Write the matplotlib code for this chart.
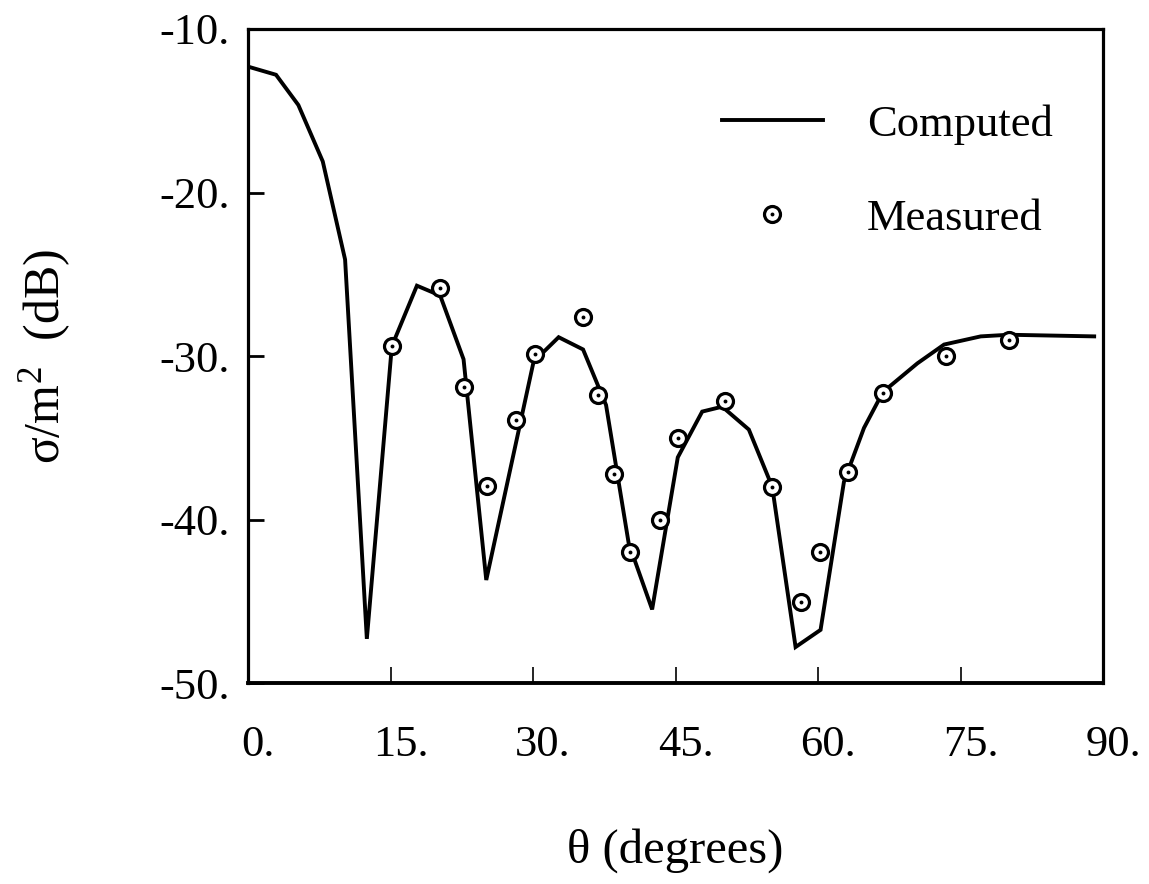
import matplotlib
matplotlib.use("Agg")
import matplotlib.pyplot as plt
import matplotlib.transforms as mtransforms
from matplotlib.legend_handler import HandlerTuple

plt.rcParams["font.family"] = ["Liberation Serif", "DejaVu Serif"]
plt.rcParams["mathtext.fontset"] = "custom"
plt.rcParams["mathtext.rm"] = "Liberation Serif"
plt.rcParams["mathtext.it"] = "Liberation Serif:italic"
plt.rcParams["mathtext.default"] = "regular"

# Computed backscatter (dB) versus incidence angle
theta_computed = [0.0, 2.95, 5.3, 7.87, 10.22, 12.51, 15.14, 17.78, 20.23, 22.69,
                  25.08, 30.06, 32.7, 35.27, 37.69, 40.07, 42.54, 45.24, 47.81,
                  49.92, 52.72, 55.18, 57.64, 60.27, 62.73, 64.84, 66.84, 70.46,
                  73.27, 77.13, 80.08, 89.07]
sigma_computed = [-12.3, -12.8, -14.65, -18.1, -24.1, -47.3, -29.4, -25.7, -26.3,
                  -30.2, -43.7, -30.35, -28.85, -29.6, -33.0, -41.45, -45.5, -36.2,
                  -33.4, -33.1, -34.5, -38.0, -47.8, -46.75, -37.7, -34.4, -32.2,
                  -30.45, -29.3, -28.8, -28.7, -28.8]

# Measured backscatter (dB)
theta_measured = [15.14, 20.23, 22.69, 25.15, 28.24, 30.24, 35.27, 36.85, 38.49,
                  40.18, 43.34, 45.24, 50.16, 55.18, 58.17, 60.2, 63.15, 66.84,
                  73.45, 80.12]
sigma_measured = [-29.4, -25.85, -31.9, -37.95, -33.9, -29.9, -27.6, -32.4, -37.2,
                  -42.0, -40.0, -35.0, -32.75, -38.0, -45.05, -42.0, -37.1, -32.25,
                  -30.0, -29.0]

x_ticks = [0, 15, 30, 45, 60, 75, 90]
x_ticklabels = ["0.", "15.", "30.", "45.", "60.", "75.", "90."]
y_ticks = [-10, -20, -30, -40, -50]
y_ticklabels = ["-10.", "-20.", "-30.", "-40.", "-50."]

W, H, DPI = 1149, 884, 100
fig = plt.figure(figsize=(W / DPI, H / DPI), dpi=DPI)
ax = fig.add_axes([248 / W, 1 - 683 / H, (1103 - 248) / W, (683 - 29) / H])

FS = 32

line, = ax.plot(theta_computed, sigma_computed, color="black", lw=2.8,
                solid_joinstyle="miter", zorder=2)
circ, = ax.plot(theta_measured, sigma_measured, ls="none", marker="o", ms=11.5,
                mfc="white", mec="black", mew=2.3, zorder=3)
dot, = ax.plot(theta_measured, sigma_measured, ls="none", marker="o", ms=2.8,
               mfc="black", mec="black", mew=0, zorder=4)

ax.set_xlim(0, 90)
ax.set_ylim(-50, -10)
ax.set_xticks(x_ticks)
ax.set_xticklabels(x_ticklabels)
ax.set_yticks(y_ticks)
ax.set_yticklabels(y_ticklabels)

ax.tick_params(axis="x", direction="in", length=11.5, width=1.2, pad=30,
               labelsize=FS, top=False)
ax.tick_params(axis="y", direction="in", length=11.5, width=2.0, pad=13,
               labelsize=FS, right=False)

# nudge x tick labels slightly to the right
shift = mtransforms.ScaledTranslation(10 / DPI, 0, fig.dpi_scale_trans)
for lab in ax.get_xticklabels():
    lab.set_transform(lab.get_transform() + shift)

for side, sp in ax.spines.items():
    sp.set_linewidth(2.3)
    sp.set_color("black")
ax.spines["bottom"].set_linewidth(2.8)

ax.set_xlabel("θ (degrees)", fontsize=35)
ax.xaxis.set_label_coords(0.5, -0.222)
ax.set_ylabel("σ/m$^{2}$  (dB)", fontsize=36)
ax.yaxis.set_label_coords(-0.205, 0.5)

ax.legend([line, (circ, dot)], ["Computed", "Measured"],
          handler_map={tuple: HandlerTuple(ndivide=1, pad=0)},
          loc="upper left", bbox_to_anchor=(0.554, 0.885),
          frameon=False, fontsize=FS, handlelength=2.27, handletextpad=1.0,
          labelspacing=1.22, borderpad=0, borderaxespad=0)

fig.savefig("out.png", dpi=DPI)
